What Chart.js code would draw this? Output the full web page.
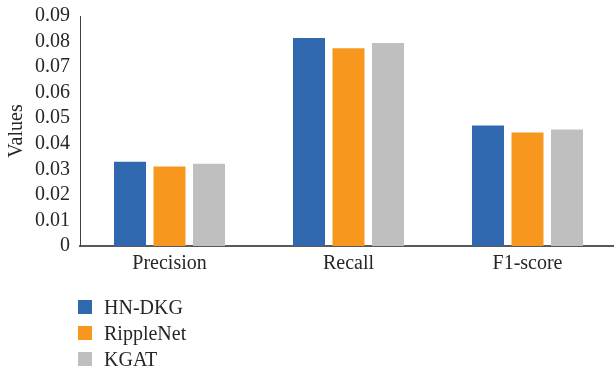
<!DOCTYPE html>
<html>
<head>
<meta charset="utf-8">
<script src="https://cdn.jsdelivr.net/npm/chart.js@4/dist/chart.umd.min.js"></script>
<style>
  html, body { margin: 0; padding: 0; background: #fff; overflow: hidden; width: 614px; height: 371px; }
  #wrap { position: relative; width: 614px; height: 371px; overflow: hidden; }
  #c { position: absolute; left: 0; top: 0; }
  #legend { position: absolute; left: 78px; top: 294px; font-family: "Liberation Serif", "DejaVu Serif", serif; font-size: 20px; color: #262626; }
  .row { height: 26px; display: flex; align-items: center; }
  .sw { width: 14px; height: 14px; margin-right: 12px; }
</style>
</head>
<body>
<div id="wrap">
  <canvas id="c" width="620" height="371"></canvas>
  <div id="legend"></div>
</div>
<script>
const categories = ["Precision", "Recall", "F1-score"];
const seriesNames = ["HN-DKG", "RippleNet", "KGAT"];
const hnDkg = [0.0330, 0.0814, 0.0472];
const rippleNet = [0.0311, 0.0774, 0.0444];
const kgat = [0.0322, 0.0794, 0.0456];
const yTicks = [0, 0.01, 0.02, 0.03, 0.04, 0.05, 0.06, 0.07, 0.08, 0.09];
const colors = ["#3068B0", "#F7971E", "#BFBFBF"];

const seriesValues = [hnDkg, rippleNet, kgat];
const serif = "'Liberation Serif', 'DejaVu Serif', serif";
const textColor = "#262626";

const chart = new Chart(document.getElementById("c"), {
  type: "bar",
  data: {
    labels: categories,
    datasets: seriesNames.map((name, i) => ({
      label: name,
      data: seriesValues[i],
      backgroundColor: colors[i],
      borderWidth: 0,
      barPercentage: 0.81,
      categoryPercentage: 0.662
    }))
  },
  options: {
    responsive: false,
    animation: false,
    devicePixelRatio: 1,
    layout: { padding: { top: 16, right: 3, bottom: 0, left: 0 } },
    plugins: { legend: { display: false }, tooltip: { enabled: false } },
    scales: {
      x: {
        grid: { display: false, drawTicks: false },
        border: { display: true, color: "#595959", width: 2 },
        ticks: { color: textColor, font: { family: serif, size: 20 }, padding: 6 },
        afterFit: (s) => { s.height = 125; }
      },
      y: {
        min: 0,
        max: 0.09,
        afterBuildTicks: (s) => { s.ticks = yTicks.map(v => ({ value: v })); },
        grid: { display: false, drawTicks: false },
        border: { display: true, color: "#404040", width: 1 },
        ticks: {
          autoSkip: false,
          color: textColor,
          font: { family: serif, size: 20 },
          padding: 10,
          callback: (v) => String(v)
        },
        title: {
          display: true,
          text: "Values",
          color: textColor,
          font: { family: serif, size: 20 },
          padding: { top: 5, bottom: 0 }
        },
        afterFit: (s) => { s.width = 80; s.paddingTop = 0; s.paddingBottom = 0; }
      }
    }
  }
});

// Legend: one entry per row under the plot
const legend = document.getElementById("legend");
seriesNames.forEach((name, i) => {
  const row = document.createElement("div");
  row.className = "row";
  const sw = document.createElement("span");
  sw.className = "sw";
  sw.style.background = colors[i];
  const tx = document.createElement("span");
  tx.textContent = name;
  row.appendChild(sw);
  row.appendChild(tx);
  legend.appendChild(row);
});
</script>
</body>
</html>
